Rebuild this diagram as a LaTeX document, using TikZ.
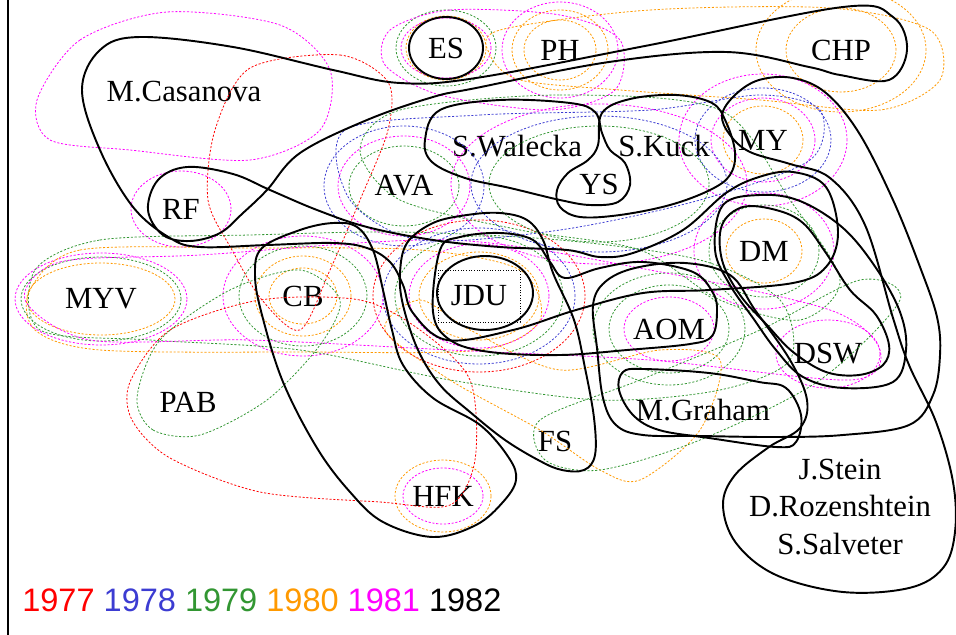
\documentclass[tikz,border=0pt]{standalone}
\usepackage{fontspec}
\setmainfont{Liberation Serif}
\newfontfamily\legendfont{Liberation Sans}
\usetikzlibrary{positioning}
\definecolor{c77}{RGB}{255,0,0}
\definecolor{c78}{RGB}{60,60,210}
\definecolor{c79}{RGB}{50,150,50}
\definecolor{c80}{RGB}{255,153,0}
\definecolor{c81}{RGB}{255,0,255}
\tikzstyle{person} = [font=\fontsize{17.5}{22}\selectfont, inner sep=1pt]
\tikzstyle{grp} = [draw, line width=1.1pt, line join=round]
\tikzstyle{yr} = [draw, line width=0.45pt, dash pattern=on 1.2pt off 1pt]

\begin{document}
\begin{tikzpicture}[x=0.02cm,y=-0.02cm]
    \useasboundingbox (0,0) rectangle (956,635);
    \draw[line width=1.2pt] (8,0) -- (8,635);
    % Place nodes
    \node[person] (es) at (446,48) {ES};
    \node[person] (ph) at (560,50) {PH};
    \node[person] (chp) at (841,50) {CHP};
    \node[person] (mc) at (184,92) {M.Casanova};
    \node[person] (sw) at (517,146) {S.Walecka};
    \node[person] (sk) at (664,146) {S.Kuck};
    \node[person] (my) at (763,140) {MY};
    \node[person] (ys) at (599,184) {YS};
    \node[person] (ava) at (404,186) {AVA};
    \node[person] (rf) at (181,209) {RF};
    \node[person] (dm) at (764,251) {DM};
    \node[person] (myv) at (101,299) {MYV};
    \node[person] (cb) at (303,296) {CB};
    \node[person, draw, densely dotted, line width=0.5pt, minimum width=1.64cm, minimum height=1.04cm] (jdu) at (479,296) {JDU};
    \node[person] (aom) at (669,329) {AOM};
    \node[person] (dsw) at (828,354) {DSW};
    \node[person] (pab) at (188,402) {PAB};
    \node[person] (mg) at (703,410) {M.Graham};
    \node[person] (fs) at (555,441) {FS};
    \node[person] (hfk) at (443,496) {HFK};
    \node[person, align=center] (jds) at (840,507) {J.Stein\\[-0.5pt]D.Rozenshtein\\[-0.5pt]S.Salveter};
    \node[anchor=west, inner sep=0pt, font=\legendfont\fontsize{18.5}{22}\selectfont] (years) at (22,600)
        {\textcolor{c77}{1977} \textcolor{c78}{1978} \textcolor{c79}{1979} \textcolor{c80}{1980} \textcolor{c81}{1981} 1982};

    % earlier years
    \foreach \c/\a/\b in {c79/50/38, c80/40/32, c81/45/30} \draw[yr,\c] (es) ellipse [x radius=\a*0.02cm, y radius=\b*0.02cm];
    \foreach \c/\a/\b in {c80/36/30, c80/48/40, c81/58/48} \draw[yr,\c] (ph) ellipse [x radius=\a*0.02cm, y radius=\b*0.02cm];
    \foreach \c/\a/\b in {c80/55/42, c80/85/62} \draw[yr,\c] (chp) ellipse [x radius=\a*0.02cm, y radius=\b*0.02cm];
    \foreach \c/\a/\b in {c80/40/34, c81/52/42, c78/68/52, c81/84/66} \draw[yr,\c] (my) ellipse [x radius=\a*0.02cm, y radius=\b*0.02cm];
    \foreach \c/\a/\b in {c80/38/32, c79/55/46, c81/70/58} \draw[yr,\c] (dm) ellipse [x radius=\a*0.02cm, y radius=\b*0.02cm];
    \foreach \c/\a/\b in {c81/45/32, c79/60/44, c79/76/56} \draw[yr,\c] (aom) ellipse [x radius=\a*0.02cm, y radius=\b*0.02cm];
    \foreach \c/\a/\b in {c80/60/44, c81/70/52, c79/84/60, c78/96/68, c77/106/76} \draw[yr,\c] (jdu) ellipse [x radius=\a*0.02cm, y radius=\b*0.02cm];
    \foreach \c/\a/\b in {c80/34/28, c80/48/40, c79/64/50, c81/80/60} \draw[yr,\c] (cb) ellipse [x radius=\a*0.02cm, y radius=\b*0.02cm];
    \foreach \c/\a/\b in {c79/80/42, c80/74/36, c81/86/46} \draw[yr,\c] (myv) ellipse [x radius=\a*0.02cm, y radius=\b*0.02cm];
    \foreach \c/\a/\b in {c79/55/40, c81/66/50, c78/80/60} \draw[yr,\c] (ava) ellipse [x radius=\a*0.02cm, y radius=\b*0.02cm];
    \foreach \c/\a/\b in {c81/40/28, c80/48/36} \draw[yr,\c] (hfk) ellipse [x radius=\a*0.02cm, y radius=\b*0.02cm];
    \foreach \c/\a/\b in {c81/50/38} \draw[yr,\c] (rf) ellipse [x radius=\a*0.02cm, y radius=\b*0.02cm];
    \foreach \c/\a/\b in {c81/52/34} \draw[yr,\c] (dsw) ellipse [x radius=\a*0.02cm, y radius=\b*0.02cm];
    \foreach \c/\a/\b in {c79/110/58, c78/128/68, c81/148/80} \draw[yr,\c] (ys) ellipse [x radius=\a*0.02cm, y radius=\b*0.02cm];
    \draw[yr,c81] plot[smooth cycle] coordinates {(37,100) (80,40) (167,12) (280,25) (330,70) (320,130) (250,160) (130,150) (50,140)};
    \draw[yr,c77] plot[smooth cycle] coordinates {(130,382) (170,330) (260,300) (360,300) (420,330) (470,380) (475,460) (450,505) (380,502) (260,492) (170,458) (132,420)};
    \draw[yr,c77] plot[smooth cycle] coordinates {(250,68) (340,55) (388,82) (388,130) (360,200) (330,270) (300,330) (262,300) (232,250) (208,200) (215,130)};
    \draw[yr,c79] plot[smooth cycle] coordinates {(35,270) (100,240) (250,235) (400,232) (560,240) (700,260) (780,300) (790,360) (720,390) (600,400) (450,380) (300,350) (150,340) (40,330)};
    \draw[yr,c80] plot[smooth cycle] coordinates {(30,290) (80,250) (250,248) (420,250) (520,270) (540,320) (480,350) (300,352) (100,350) (35,330)};
    \draw[yr,c81] plot[smooth cycle] coordinates {(25,300) (60,262) (200,255) (450,240) (650,270) (830,310) (880,350) (850,380) (650,360) (450,350) (250,340) (90,340)};
    \draw[yr,c78] plot[smooth cycle] coordinates {(345,130) (480,115) (650,110) (760,95) (820,110) (810,160) (700,200) (560,230) (420,240) (350,200)};
    \draw[yr,c79] plot[smooth cycle] coordinates {(400,110) (560,95) (720,110) (790,200) (840,280) (800,320) (720,300) (640,250) (520,230) (400,200) (360,150)};
    \draw[yr,c80] plot[smooth cycle] coordinates {(500,30) (650,10) (830,8) (930,30) (940,80) (880,110) (760,100) (620,90) (520,80) (490,55)};
    \draw[yr,c81] plot[smooth cycle] coordinates {(390,30) (450,10) (560,15) (620,40) (615,90) (550,110) (440,95) (385,65)};
    \draw[yr,c80] plot[smooth cycle] coordinates {(385,330) (450,380) (540,430) (600,470) (640,480) (700,430) (720,360) (660,350) (560,370) (470,330) (420,300)};
    \draw[yr,c79] plot[smooth cycle] coordinates {(540,420) (640,380) (760,330) (860,280) (900,300) (820,380) (700,440) (600,470) (545,460)};
    \draw[yr,c79] plot[smooth cycle] coordinates {(137,398) (153,430) (200,435) (267,400) (320,345) (340,300) (300,270) (230,290) (160,340)};

    % 1982 groups
    \draw[grp] (es) ellipse [x radius=0.74cm, y radius=0.62cm];
    \draw[grp] (485,293) ellipse [x radius=0.96cm, y radius=0.74cm];
    \draw[grp] plot[smooth cycle, tension=0.6] coordinates {(650,45) (843,7) (893,17) (907,50) (889,80) (840,75) (809,67) (726,52) (609,62) (476,88) (433,97) (367,120) (300,153) (267,190) (243,213) (220,233) (190,241) (163,235) (148,210) (158,180) (187,167) (233,174) (270,190) (317,210) (367,227) (433,240) (500,247) (567,250) (600,257) (633,253) (683,230) (726,193) (759,177) (793,172) (826,187) (838,233) (826,267) (793,283) (709,290) (643,293) (576,310) (513,330) (447,340) (413,313) (403,285) (390,262) (367,248) (333,243) (267,245) (200,247) (170,238) (133,207) (100,150) (82,90) (100,50) (140,37) (233,47) (333,70) (400,83) (476,78)};
    \draw[grp] plot[smooth cycle, tension=0.6] coordinates {(425,140) (440,110) (500,100) (570,103) (595,112) (602,133) (610,150) (625,163) (630,185) (618,202) (590,205) (560,200) (510,188) (465,178) (432,162)};
    \draw[grp] plot[smooth cycle, tension=0.6] coordinates {(602,113) (630,99) (676,95) (712,103) (726,122) (735,152) (730,175) (710,190) (670,205) (620,215) (580,217) (560,207) (557,190) (568,173) (588,160) (598,145)};
    \draw[grp] plot[smooth cycle, tension=0.6] coordinates {(722,115) (735,95) (759,80) (793,78) (826,93) (859,133) (893,200) (920,267) (937,317) (940,355) (933,395) (909,425) (843,435) (776,437) (700,436) (643,435) (616,425) (603,398) (597,348) (593,305) (605,282) (635,268) (685,263) (730,275) (755,310) (790,360) (807,400) (800,428) (769,447) (735,475) (723,505) (736,543) (776,575) (843,592) (909,588) (943,568) (955,532) (953,482) (936,422) (909,365) (893,318) (865,225) (830,178) (790,164) (750,152) (730,135)};
    \draw[grp] plot[smooth cycle, tension=0.6] coordinates {(743,207) (776,210) (803,223) (826,253) (850,290) (876,315) (889,345) (883,365) (859,375) (826,372) (793,352) (767,325) (740,295) (722,260) (722,225)};
    \draw[grp] plot[smooth cycle, tension=0.6] coordinates {(723,205) (760,195) (800,201) (843,228) (876,268) (900,312) (906,350) (893,382) (843,388) (803,377) (776,350) (753,318) (730,285) (715,250)};
    \draw[grp] plot[smooth cycle, tension=0.6] coordinates {(440,250) (460,237) (500,233) (533,240) (550,262) (565,278) (600,268) (643,262) (693,272) (713,293) (717,312) (712,336) (690,344) (627,350) (560,355) (490,352) (450,340) (433,312)};
    \draw[grp] plot[smooth cycle, tension=0.6] coordinates {(433,223) (467,215) (500,213) (527,220) (543,240) (553,273) (574,320) (585,368) (594,418) (595,455) (584,470) (562,470) (540,461) (505,440) (470,412) (440,385) (418,350) (403,305) (400,273) (407,243)};
    \draw[grp] plot[smooth cycle, tension=0.6] coordinates {(262,248) (300,230) (333,223) (357,227) (373,250) (383,290) (392,330) (403,365) (433,398) (480,425) (509,458) (516,480) (503,502) (476,525) (433,537) (383,522) (350,492) (317,448) (283,382) (262,315) (255,275)};
    \draw[grp] plot[smooth cycle, tension=0.6] coordinates {(623,372) (643,369) (709,373) (759,382) (786,388) (801,415) (796,442) (776,447) (709,438) (659,430) (633,415) (619,390)};
\end{tikzpicture}
\end{document}
